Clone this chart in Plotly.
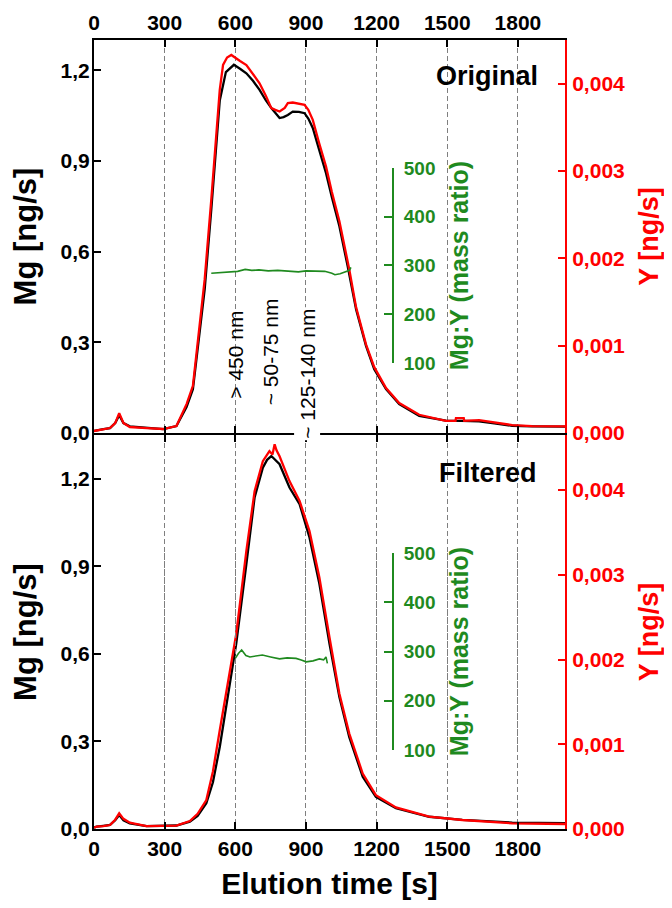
import plotly.graph_objects as go

# ---------------- data ----------------
tick_x = [0, 300, 600, 900, 1200, 1500, 1800]
tick_mg = [0.0, 0.3, 0.6, 0.9, 1.2]
tick_y = [0.0, 0.001, 0.002, 0.003, 0.004]
tick_ratio = [100, 200, 300, 400, 500]

# Original (top panel)
t_top_mg = [0, 11, 40, 68, 90, 107, 125, 152, 223, 294, 350, 393, 420, 470, 498, 534, 560, 594, 620, 647,
            675, 703, 730, 753, 788, 805, 823, 844, 870, 894, 910, 929, 955, 985, 1010, 1042, 1077, 1113,
            1155, 1190, 1240, 1296, 1381, 1494, 1560, 1635, 1700, 1776, 1860, 1945, 2000]
mg_top = [0.007, 0.008, 0.013, 0.016, 0.033, 0.059, 0.033, 0.022, 0.018, 0.013, 0.023, 0.086, 0.145, 0.475,
          0.739, 1.10, 1.194, 1.218, 1.205, 1.19, 1.165, 1.135, 1.10, 1.075, 1.042, 1.045, 1.052, 1.063,
          1.062, 1.058, 1.040, 1.009, 0.94, 0.860, 0.78, 0.684, 0.552, 0.409, 0.288, 0.211, 0.145, 0.096,
          0.057, 0.041, 0.040, 0.039, 0.032, 0.024, 0.022, 0.021, 0.021]

t_top_y = [0, 40, 68, 90, 107, 125, 152, 223, 294, 350, 393, 420, 470, 498, 534, 548, 565, 583, 600, 620,
           647, 675, 703, 730, 753, 770, 788, 810, 823, 844, 870, 894, 910, 929, 955, 985, 1010, 1042, 1084,
           1113, 1155, 1190, 1240, 1296, 1381, 1494, 1535, 1537, 1570, 1572, 1635, 1700, 1776, 1860, 1945, 2000]
y_top = [0.000023, 0.000046, 0.000057, 0.000114, 0.000228, 0.000114, 0.000069, 0.000057, 0.000046, 0.00008,
         0.000331, 0.00054, 0.001759, 0.002673, 0.003929, 0.004214, 0.004300, 0.004329, 0.004294, 0.004260,
         0.004214, 0.004110, 0.004005, 0.003860, 0.00372, 0.003700, 0.003681, 0.003723, 0.003777, 0.003784,
         0.003770, 0.003758, 0.003700, 0.003586, 0.003330, 0.003053, 0.002760, 0.002425, 0.001873, 0.001439,
         0.001016, 0.000754, 0.000514, 0.000343, 0.000209, 0.00014, 0.00014, 0.000171, 0.000171, 0.00014,
         0.000148, 0.00012, 0.000091, 0.00008, 0.000077, 0.000077]

t_top_ratio = [498, 530, 570, 610, 642, 670, 700, 740, 780, 820, 868, 900, 940, 980, 1010, 1023, 1045, 1070, 1085, 1091]
ratio_top = [284, 285, 287, 288, 292, 290, 291, 289, 290, 288, 287, 289, 288, 288, 284, 281, 283, 287, 290, 296]

# Filtered (bottom panel)
t_bot_mg = [0, 11, 40, 68, 90, 107, 125, 152, 223, 294, 350, 407, 440, 477, 505, 534, 576, 604, 647, 682,
            717, 735, 753, 770, 788, 830, 873, 915, 957, 1000, 1042, 1084, 1141, 1197, 1282, 1423, 1564, 1776, 2000]
mg_bot = [0.005, 0.008, 0.011, 0.014, 0.030, 0.048, 0.030, 0.019, 0.010, 0.010, 0.012, 0.025, 0.045, 0.088,
          0.16, 0.281, 0.498, 0.635, 0.908, 1.136, 1.238, 1.265, 1.278, 1.266, 1.250, 1.170, 1.113, 0.999,
          0.840, 0.635, 0.452, 0.315, 0.179, 0.110, 0.071, 0.042, 0.031, 0.022, 0.020]

t_bot_y = [0, 11, 40, 68, 90, 107, 125, 152, 223, 294, 350, 407, 440, 477, 505, 534, 576, 604, 647, 682,
           717, 745, 758, 767, 775, 788, 830, 873, 915, 957, 1000, 1042, 1084, 1141, 1197, 1282, 1423, 1564,
           1776, 2000]
y_bot = [0.000015, 0.000027, 0.000035, 0.000047, 0.00011, 0.000185, 0.00012, 0.000074, 0.000035, 0.000035,
         0.00004, 0.000094, 0.00018, 0.000341, 0.00068, 0.001165, 0.001871, 0.002302, 0.003282, 0.003988,
         0.004341, 0.004459, 0.004420, 0.004540, 0.004470, 0.0044, 0.004106, 0.003871, 0.003518, 0.002968,
         0.002262, 0.001596, 0.001126, 0.000655, 0.0004, 0.000255, 0.000145, 0.000106, 0.000067, 0.000059]

t_bot_ratio = [600, 613, 627, 645, 662, 690, 715, 750, 788, 820, 858, 880, 901, 930, 957, 975, 985, 991]
ratio_bot = [286, 296, 303, 292, 289, 291, 293, 289, 285, 287, 286, 283, 279, 281, 285, 283, 289, 276]

# ---------------- styles ----------------
FONT = "Liberation Sans"
BLACK = "black"
RED = "#ff0000"
GREEN = "#1f8a1f"

fig = go.Figure()
fig.add_trace(go.Scatter(x=t_top_mg, y=mg_top, xaxis="x", yaxis="y", mode="lines",
                         line=dict(color=BLACK, width=2.3), showlegend=False))
fig.add_trace(go.Scatter(x=t_top_y, y=y_top, xaxis="x", yaxis="y3", mode="lines",
                         line=dict(color=RED, width=2.3), showlegend=False))
fig.add_trace(go.Scatter(x=t_top_ratio, y=ratio_top, xaxis="x", yaxis="y5", mode="lines",
                         line=dict(color=GREEN, width=1.6), showlegend=False))
fig.add_trace(go.Scatter(x=t_bot_mg, y=mg_bot, xaxis="x2", yaxis="y2", mode="lines",
                         line=dict(color=BLACK, width=2.3), showlegend=False))
fig.add_trace(go.Scatter(x=t_bot_y, y=y_bot, xaxis="x2", yaxis="y4", mode="lines",
                         line=dict(color=RED, width=2.3), showlegend=False))
fig.add_trace(go.Scatter(x=t_bot_ratio, y=ratio_bot, xaxis="x2", yaxis="y6", mode="lines",
                         line=dict(color=GREEN, width=1.6), showlegend=False))

split = 0.5006
half_px = 1.0 / 789  # lines are drawn half a line width outside the plot area; make both meet
tickfont = dict(family=FONT, size=21, color=BLACK, weight="bold")

xcommon = dict(range=[0, 2000], tickvals=tick_x, ticks="inside", ticklen=7, tickwidth=1.5,
               tickcolor=BLACK, showline=True, linewidth=2, linecolor=BLACK, mirror="ticks",
               showgrid=True, gridcolor="#7f7f7f", griddash="5px,3px", gridwidth=1,
               zeroline=False, tickfont=tickfont, domain=[0, 1], automargin=False)

mgcommon = dict(tickvals=tick_mg, tickformat=".1f", ticks="inside", ticklen=7, tickwidth=1.5,
                tickcolor=BLACK, showline=True, linewidth=2, linecolor=BLACK, showgrid=False,
                zeroline=False, tickfont=tickfont, ticklabelstandoff=-2, automargin=False,
                title=dict(text="Mg [ng/s]", font=dict(family=FONT, size=31, weight="bold"), standoff=16))

ycommon = dict(tickvals=tick_y, tickformat=".3f", ticks="inside", ticklen=7, tickwidth=1.5,
               tickcolor=RED, showline=True, linewidth=2, linecolor=RED, showgrid=False,
               zeroline=False, side="right", ticklabelstandoff=1, automargin=False,
               tickfont=dict(family=FONT, size=21, color=RED, weight="bold"),
               title=dict(text="Y [ng/s]", font=dict(family=FONT, size=27, color=RED, weight="bold"), standoff=17))

rcommon = dict(range=[100, 500], tickvals=tick_ratio, ticks="inside", ticklen=8, tickwidth=1.8,
               tickcolor=GREEN, showline=True, linewidth=2, linecolor=GREEN, showgrid=False,
               zeroline=False, side="right", anchor="free", position=0.6348, ticklabelstandoff=6,
               automargin=False,
               tickfont=dict(family=FONT, size=19, color=GREEN, weight="bold"),
               title=dict(text="Mg:Y (mass ratio)", font=dict(family=FONT, size=25, color=GREEN, weight="bold"),
                          standoff=15))

# the page body has an 8px default margin; size the figure so it fits without scrollbars
fig.update_layout(
    width=656, height=892,
    margin=dict(l=86, r=99, t=32, b=71),
    paper_bgcolor="white", plot_bgcolor="rgba(0,0,0,0)",
    separators=", ",
    font=dict(family=FONT, color=BLACK),
    xaxis=dict(**xcommon, anchor="y", side="top", ticklabelstandoff=0),
    xaxis2=dict(**xcommon, anchor="y2", side="bottom", ticklabelstandoff=0,
                title=dict(text="Elution time [s]", font=dict(family=FONT, size=30, weight="bold"), standoff=16)),
    yaxis=dict(**mgcommon, domain=[split + half_px, 1], range=[0, 1.3], anchor="x"),
    yaxis2=dict(**mgcommon, domain=[0, split - half_px], range=[0, 1.35], anchor="x2"),
    yaxis3=dict(**ycommon, range=[0, 0.0045], overlaying="y", anchor="x"),
    yaxis4=dict(**ycommon, range=[0, 0.00465], overlaying="y2", anchor="x2"),
    yaxis5=dict(**rcommon, domain=[0.5906, 0.8378]),
    yaxis6=dict(**rcommon, domain=[0.1001, 0.3498]),
)

ann_font = dict(family=FONT, size=21, color=BLACK)
fig.add_annotation(x=1895, y=1.18, xref="x", yref="y", text="<b>Original</b>", showarrow=False,
                   xanchor="right", font=dict(family=FONT, size=27, color=BLACK))
fig.add_annotation(x=1890, y=1.22, xref="x2", yref="y2", text="<b>Filtered</b>", showarrow=False,
                   xanchor="right", font=dict(family=FONT, size=27, color=BLACK))
fig.add_annotation(x=600, y=0.26, xref="x", yref="y", text="&gt; 450 nm", textangle=-90,
                   showarrow=False, font=ann_font)
fig.add_annotation(x=747, y=0.27, xref="x", yref="y", text="~ 50-75 nm", textangle=-90,
                   showarrow=False, font=ann_font)
fig.add_annotation(x=903, y=0.195, xref="x", yref="y", text="~ 125-140 nm", textangle=-90,
                   showarrow=False, font=ann_font, bgcolor="white")

fig.write_html("out.html")
